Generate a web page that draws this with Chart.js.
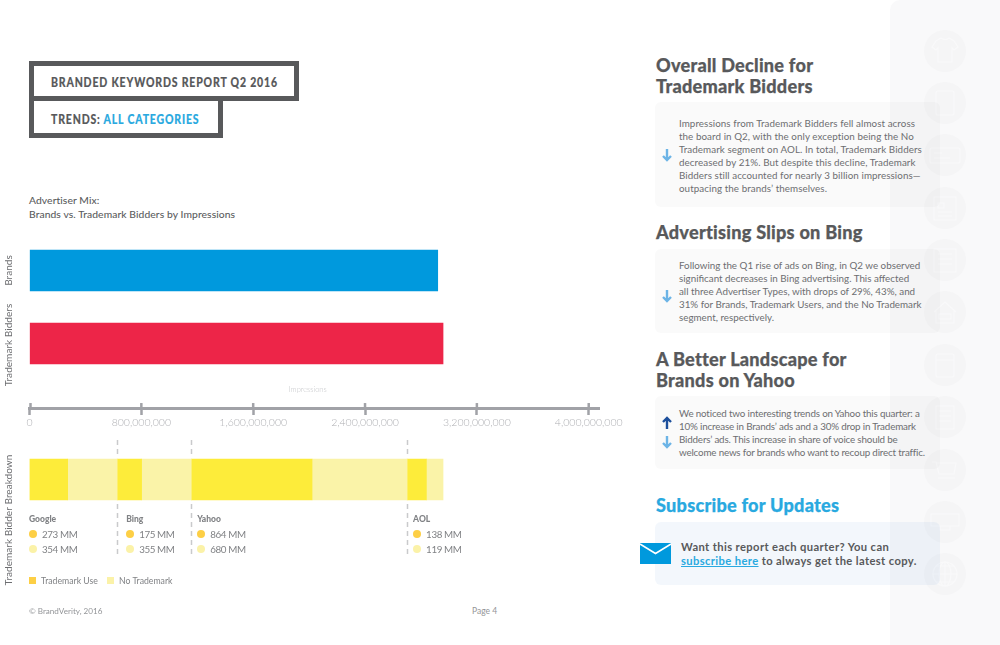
<!DOCTYPE html>
<html><head><meta charset="utf-8">
<script src="https://cdn.jsdelivr.net/npm/chart.js@4/dist/chart.umd.min.js"></script>
<style>
html,body{margin:0;padding:0;background:#fff;}
#page{position:relative;width:1000px;height:645px;overflow:hidden;background:#fff;font-family:Lato,"Open Sans",sans-serif;color:#58595b;}
#page div,#page canvas,#page svg{position:absolute;}
.t{white-space:nowrap;}
.h{font-family:Lato,sans-serif;font-weight:900;font-size:19.5px;line-height:21px;color:#58595b;left:656px;letter-spacing:.25px;transform:scaleX(.93);transform-origin:0 0;-webkit-text-stroke:.25px currentColor;}
.head{left:51px;font-size:12.2px;font-weight:900;letter-spacing:.95px;line-height:15px;transform:scaleX(.863);transform-origin:0 0;-webkit-text-stroke:.15px currentColor;}
.box{left:655px;width:285px;background:rgba(60,60,70,.028);border-radius:6px;}
.body{left:679px;font-size:9.8px;line-height:12.9px;color:#6d6e71;font-family:Lato,sans-serif;}
.k{font-size:9.8px;color:#808285;font-weight:400;letter-spacing:-.4px;}
</style></head><body>
<div id="page">
  <div id="panel" style="left:890px;top:0;width:110px;height:645px;background:#f9f9fa;border-radius:10px 0 0 0"></div>
  <svg id="icons" style="left:890px;top:0" width="110" height="645" fill="none" stroke="#f9f9fa" stroke-width="1.2">
    <g fill="#f5f5f6" stroke="none">
      <circle cx="55" cy="51" r="21"/><circle cx="55" cy="103" r="21"/><circle cx="55" cy="155" r="21"/><circle cx="55" cy="208" r="21"/><circle cx="55" cy="260" r="21"/><circle cx="55" cy="312" r="21"/><circle cx="55" cy="365" r="21"/><circle cx="55" cy="417" r="21"/><circle cx="55" cy="470" r="21"/><circle cx="55" cy="522" r="21"/><circle cx="55" cy="574" r="21"/>
    </g>
    <path d="M46 41l5-3q4 3 8 0l5 3 4 6-4 3-2-2v14H48V48l-2 2-4-3z"/>
    <rect x="46" y="91" width="18" height="24" rx="2"/>
    <rect x="40" y="148" width="30" height="15" rx="2"/><path d="M44 153h8M44 158h16"/>
    <rect x="44" y="197" width="22" height="23"/><path d="M48 203h6v5h-6zM48 212h14M48 216h14"/>
    <rect x="44" y="249" width="22" height="23"/><path d="M48 254h14M48 259h14M48 264h14"/>
    <path d="M44 312l11-10 11 10M46 310v13h18v-13"/><rect x="49" y="314" width="12" height="5"/>
    <rect x="46" y="354" width="18" height="23" rx="2"/><path d="M46 360h18"/>
    <rect x="46" y="406" width="18" height="23"/><path d="M49 411h12M49 416h12M49 421h12"/>
    <path d="M42 462h4l3 12h15l2-11H46M48 478h17"/>
    <rect x="41" y="514" width="28" height="12"/><path d="M50 526v4h10v-4"/>
    <circle cx="55" cy="574" r="12"/><path d="M43 574h24M55 562v24M46 566h18M46 582h18"/><ellipse cx="55" cy="574" rx="6" ry="12"/>
  </svg>

  <div style="left:29px;top:61px;width:260px;height:30px;border:5px solid #58595b"></div>
  <div style="left:29px;top:96px;width:184px;height:32px;border:5px solid #58595b"></div>
  <div class="t head" style="top:75px">BRANDED KEYWORDS REPORT Q2 2016</div>
  <div class="t head" style="top:112px">TRENDS: <span style="color:#29a9e0">ALL CATEGORIES</span></div>
  <div class="t" style="left:29px;top:193px;font-size:10.3px;line-height:14px;color:#58595b;letter-spacing:.1px;-webkit-text-stroke:.08px currentColor">Advertiser Mix:<br>Brands vs. Trademark Bidders by Impressions</div>

  <canvas id="main" style="left:0;top:230px"></canvas>
  <canvas id="breakdown" style="left:0;top:440px"></canvas>
  <div id="labels"></div>

  <div class="t" style="left:29px;top:577px;width:7px;height:7px;background:#fdcf45"></div>
  <div class="t" style="left:41px;top:575px;line-height:12px;font-size:8.7px;color:#808285">Trademark Use</div>
  <div class="t" style="left:107px;top:577px;width:7px;height:7px;background:#fbf2a8"></div>
  <div class="t" style="left:119px;top:575px;line-height:12px;font-size:8.7px;color:#808285">No Trademark</div>

  <div class="t" style="left:29px;top:606px;font-size:8.1px;line-height:11px;color:#939598">© BrandVerity, 2016</div>
  <div class="t" style="left:472px;top:606px;font-size:8.5px;line-height:11px;color:#939598">Page 4</div>

  <div class="t h" style="top:54px">Overall Decline for<br>Trademark Bidders</div>
  <div class="box" style="top:102px;height:105px"></div>
  <div class="t body" style="top:117px;letter-spacing:.07px">Impressions from Trademark Bidders fell almost across<br>the board in Q2, with the only exception being the No<br>Trademark segment on AOL. In total, Trademark Bidders<br>decreased by 21%. But despite this decline, Trademark<br>Bidders still accounted for nearly 3 billion impressions—<br>outpacing the brands’ themselves.</div>

  <div class="t h" style="top:221px">Advertising Slips on Bing</div>
  <div class="box" style="top:249px;height:84px"></div>
  <div class="t body" style="top:259px">Following the Q1 rise of ads on Bing, in Q2 we observed<br>significant decreases in Bing advertising. This affected<br>all three Advertiser Types, with drops of 29%, 43%, and<br>31% for Brands, Trademark Users, and the No Trademark<br>segment, respectively.</div>

  <div class="t h" style="top:348px">A Better Landscape for<br>Brands on Yahoo</div>
  <div class="box" style="top:396px;height:73px"></div>
  <div class="t body" style="top:407px;letter-spacing:-.17px">We noticed two interesting trends on Yahoo this quarter: a<br>10% increase in Brands’ ads and a 30% drop in Trademark<br>Bidders’ ads. This increase in share of voice should be<br>welcome news for brands who want to recoup direct traffic.</div>

  <div class="t h" style="top:494px;color:#29a9e0">Subscribe for Updates</div>
  <div class="box" style="top:522px;height:63px;background:rgba(120,160,220,.085)"></div>
  <div class="t" style="left:681px;top:540px;font-size:11.2px;line-height:14px;font-weight:700;color:#58595b;letter-spacing:.38px">Want this report each quarter? You can<br><span style="color:#29a9e0;text-decoration:underline">subscribe here</span> to always get the latest copy.</div>

  <svg id="arrows" style="left:0;top:0;pointer-events:none" width="1000" height="645">
    <g fill="none" stroke="#6cb4e6" stroke-width="2.4">
      <path d="M667 149v11M663 156l4 4 4-4"/>
      <path d="M667 290v11M663 297l4 4 4-4"/>
      <path d="M667 436v11M663 443l4 4 4-4"/>
      <path stroke="#1c4f9c" d="M667 429v-11M663 422l4-4 4 4"/>
    </g>
    <rect x="640" y="543" width="31" height="21" fill="#0099dd"/>
    <path d="M640 544l15.500 9.500L671 544" fill="none" stroke="#fff" stroke-width="1.500"/>
  </svg>
</div>

<script>
// ---- data ----
const categories = ['Brands', 'Trademark Bidders'];
const impressions = [2920000000, 2958000000];
const barColors = ['#0099dd', '#ed2548'];
const tickValues = [0, 800000000, 1600000000, 2400000000, 3200000000, 4000000000];
const axisEnd = 4080000000;
const axisName = 'Impressions';

const engines = ['Google', 'Bing', 'Yahoo', 'AOL'];
const trademarkUse = [273, 175, 864, 138];
const noTrademark = [354, 355, 680, 119];
const useColor = '#fdec3a';
const noColor = '#faf3a8';
const breakdownName = 'Trademark Bidder Breakdown';

const axisColor = '#a1a2a7';

function setSize(id, w, h) {
  const c = document.getElementById(id);
  c.width = w; c.height = h; c.style.width = w + 'px'; c.style.height = h + 'px';
  return c;
}
function sideLabel(ctx, text, x, y) {
  ctx.save();
  ctx.translate(x, y);
  ctx.rotate(-Math.PI / 2);
  ctx.font = '400 10.1px Lato, sans-serif';
  ctx.fillStyle = '#6d6e71';
  ctx.textAlign = 'center';
  ctx.textBaseline = 'middle';
  ctx.fillText(text, 0, 0);
  ctx.restore();
}

const mainDecor = {
  id: 'mainDecor',
  afterDraw(chart) {
    const { ctx, scales: { x, y } } = chart;
    categories.forEach((c, i) => sideLabel(ctx, c, 9, y.getPixelForTick(i) + (i ? 1.5 : 0)));
    const axisY = y.getPixelForValue(1.884);
    ctx.save();
    ctx.strokeStyle = axisColor;
    ctx.lineWidth = 2.5;
    x.ticks.forEach((t, i) => {
      const px = x.getPixelForTick(i) + (i === 0 ? 1 : 0);
      ctx.beginPath(); ctx.moveTo(px, axisY - 5); ctx.lineTo(px, axisY); ctx.stroke();
    });
    ctx.font = '300 7.5px Lato, sans-serif';
    ctx.fillStyle = '#c4c5c8';
    ctx.textAlign = 'center';
    ctx.textBaseline = 'middle';
    ctx.fillText(axisName, x.getPixelForValue(axisEnd * 0.4877), axisY - 18.5);
    ctx.restore();
  }
};

new Chart(setSize('main', 640, 210), {
  type: 'bar',
  data: { labels: categories, datasets: [{ data: impressions, backgroundColor: barColors, barThickness: 41 }] },
  plugins: [mainDecor],
  options: {
    indexAxis: 'y', responsive: false, animation: false,
    layout: { padding: { left: 29.5, right: 40.1, top: 4, bottom: 60 } },
    plugins: { legend: { display: false }, tooltip: { enabled: false } },
    scales: {
      y: { type: 'category', display: false },
      x: {
        type: 'linear', position: { y: 1.884 }, min: 0, max: axisEnd,
        afterBuildTicks: s => { s.ticks = tickValues.map(v => ({ value: v })); },
        border: { display: true, color: axisColor, width: 3 },
        grid: { display: true, drawOnChartArea: false, drawTicks: true, tickLength: 5, tickWidth: 2.5, tickColor: axisColor },
        ticks: {
          maxRotation: 0, minRotation: 0, autoSkip: false, padding: 3,
          color: '#aeafb3', font: { family: 'Lato, sans-serif', size: 10.5, weight: 300 },
          callback: v => v.toLocaleString('en-US')
        }
      }
    }
  }
});

// stacked in order: use, no-trademark for each engine
const stackDatasets = [];
engines.forEach((e, i) => {
  stackDatasets.push({ label: e + ' use', data: [trademarkUse[i]], backgroundColor: useColor, barThickness: 41 });
  stackDatasets.push({ label: e + ' none', data: [noTrademark[i]], backgroundColor: noColor, barThickness: 41 });
});
const starts = engines.map((e, i) => engines.slice(0, i).reduce((s, _, j) => s + trademarkUse[j] + noTrademark[j], 0));

const breakdownDecor = {
  id: 'breakdownDecor',
  afterDraw(chart) {
    const { ctx, scales: { x } } = chart;
    sideLabel(ctx, breakdownName, 9, 80);
    ctx.save();
    ctx.strokeStyle = '#c9cacc';
    ctx.lineWidth = 1.5;
    ctx.setLineDash([5, 4]);
    starts.slice(1).forEach(s => {
      const px = Math.round(x.getPixelForValue(s)) + 0.5;
      ctx.beginPath(); ctx.moveTo(px, 0); ctx.lineTo(px, 16); ctx.stroke();
      ctx.beginPath(); ctx.moveTo(px, 64); ctx.lineTo(px, 117); ctx.stroke();
    });
    ctx.restore();
  }
};

const bd = new Chart(setSize('breakdown', 640, 160), {
  type: 'bar',
  data: { labels: [breakdownName], datasets: stackDatasets },
  plugins: [breakdownDecor],
  options: {
    indexAxis: 'y', responsive: false, animation: false,
    layout: { padding: { left: 29.5, right: 40.1, top: 0, bottom: 81 } },
    plugins: { legend: { display: false }, tooltip: { enabled: false } },
    scales: {
      x: { type: 'linear', display: false, stacked: true, min: 0, max: axisEnd / 1e6 },
      y: { type: 'category', display: false, stacked: true }
    }
  }
});

// engine captions placed from the same scale
const holder = document.getElementById('labels');
engines.forEach((e, i) => {
  const left = i === 0 ? 29 : bd.scales.x.getPixelForValue(starts[i]) + (i === 1 ? 9 : 6);
  const caption = document.createElement('div');
  caption.className = 't';
  caption.textContent = e;
  caption.style.cssText = 'left:' + left + 'px;top:513px;line-height:12px;font-size:8.5px;font-weight:900;color:#808285;';
  holder.appendChild(caption);
  const row = (txt, y, c) => {
    const d = document.createElement('div');
    d.style.cssText = 'left:' + left + 'px;top:' + (y + 2) + 'px;width:8px;height:8px;border-radius:50%;background:' + c;
    holder.appendChild(d);
    const v = document.createElement('div');
    v.className = 't k';
    v.textContent = txt;
    v.style.cssText = 'left:' + (left + 13) + 'px;top:' + y + 'px;line-height:12px;';
    holder.appendChild(v);
  };
  row(trademarkUse[i] + ' MM', 528, '#fdcf45');
  row(noTrademark[i] + ' MM', 543, '#fbf2a8');
});
</script>
</body></html>
